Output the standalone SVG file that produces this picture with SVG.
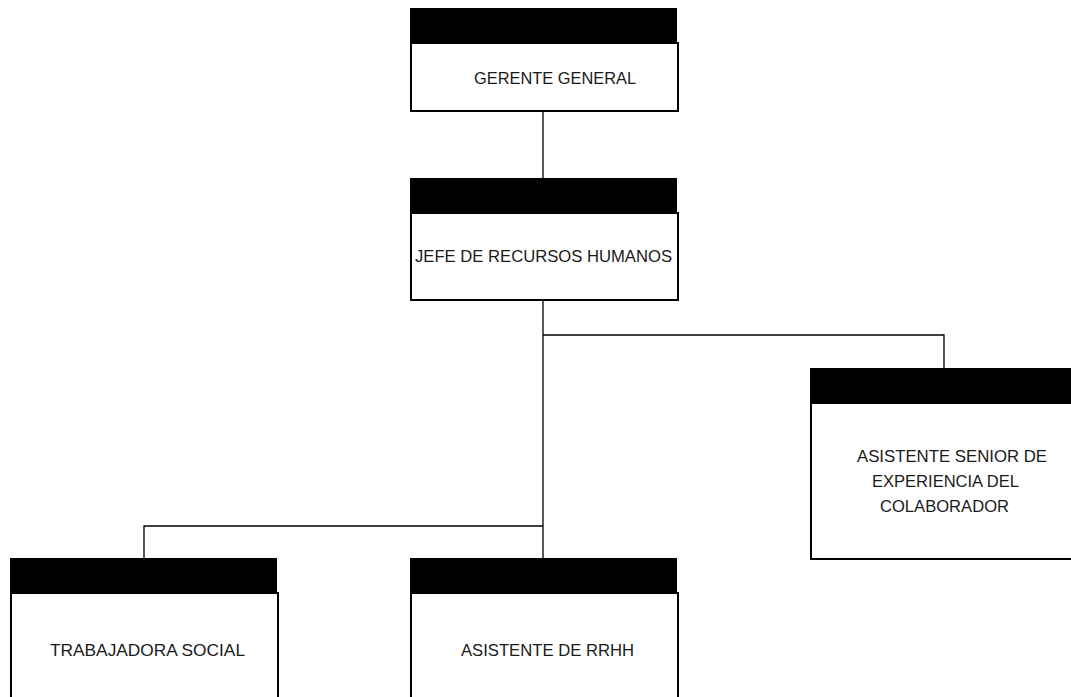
<svg xmlns="http://www.w3.org/2000/svg" width="1071" height="697" viewBox="0 0 1071 697">
<style>
.body{fill:#fff;stroke:#000;stroke-width:2}
.head{fill:#000}
.lbl{font-family:"Liberation Sans",Arial,sans-serif;font-size:16.5px;fill:#1a1a1a}
.conn{fill:none;stroke:#000;stroke-width:1.3}
</style>
<rect width="1071" height="697" fill="#fff"/>
<g id="connectors">
<path class="conn" d="M543,111 V178"/>
<path class="conn" d="M543,300 V558"/>
<path class="conn" d="M543,335 H944 V368"/>
<path class="conn" d="M543,526 H144 V558"/>
</g>
<g id="gerente">
<rect class="body" x="411" y="43" width="267" height="68"/>
<rect class="head" x="410" y="8" width="267" height="35"/>
<text class="lbl" x="474" y="84" textLength="162" lengthAdjust="spacingAndGlyphs">GERENTE GENERAL</text>
</g>
<g id="jefe">
<rect class="body" x="411" y="213" width="267" height="87"/>
<rect class="head" x="410" y="178" width="267" height="35"/>
<text class="lbl" x="415" y="262" textLength="257" lengthAdjust="spacingAndGlyphs">JEFE DE RECURSOS HUMANOS</text>
</g>
<g id="asistente-senior">
<rect class="body" x="811" y="403" width="267" height="156"/>
<rect class="head" x="810" y="368" width="267" height="35"/>
<text class="lbl" x="857" y="462" textLength="190" lengthAdjust="spacingAndGlyphs">ASISTENTE SENIOR DE</text>
<text class="lbl" x="872" y="487" textLength="147" lengthAdjust="spacingAndGlyphs">EXPERIENCIA DEL</text>
<text class="lbl" x="880" y="512" textLength="129" lengthAdjust="spacingAndGlyphs">COLABORADOR</text>
</g>
<g id="trabajadora">
<rect class="body" x="11" y="593" width="267" height="120"/>
<rect class="head" x="10" y="558" width="267" height="35"/>
<text class="lbl" x="50" y="656" textLength="195" lengthAdjust="spacingAndGlyphs">TRABAJADORA SOCIAL</text>
</g>
<g id="asistente-rrhh">
<rect class="body" x="411" y="593" width="267" height="120"/>
<rect class="head" x="410" y="558" width="267" height="35"/>
<text class="lbl" x="461" y="656" textLength="173" lengthAdjust="spacingAndGlyphs">ASISTENTE DE RRHH</text>
</g>
</svg>
